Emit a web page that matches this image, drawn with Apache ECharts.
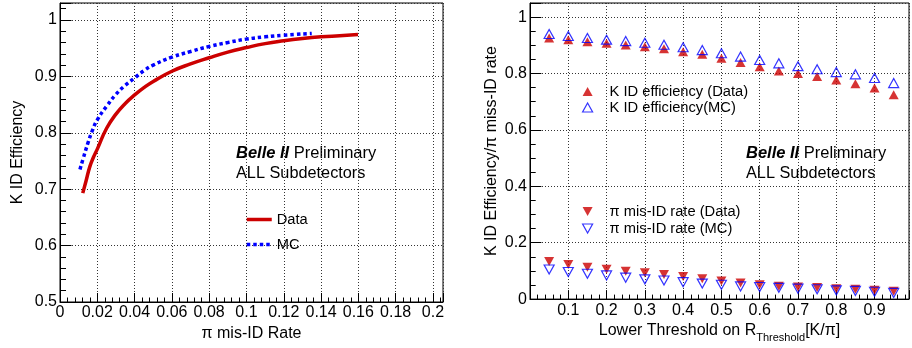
<!DOCTYPE html>
<html><head><meta charset="utf-8">
<script src="https://cdn.jsdelivr.net/npm/echarts@6/dist/echarts.min.js"></script>
<style>html,body{margin:0;padding:0;background:#fff}#c{width:912px;height:348px}</style>
</head><body><div id="c"></div>
<script>
// ---- Left panel: ROC curves (pi mis-ID rate vs K ID efficiency)
const rocDataRate = [0.0122,0.0140,0.0160,0.0180,0.0200,0.0250,0.0300,0.0350,0.0400,0.0450,0.0500,0.0600,0.0700,0.0800,0.0900,0.1000,0.1100,0.1200,0.1300,0.1400,0.1500,0.1598];
const rocDataEff  = [0.693,0.715,0.740,0.757,0.771,0.808,0.833,0.852,0.867,0.880,0.891,0.909,0.922,0.933,0.943,0.951,0.958,0.963,0.967,0.970,0.972,0.974];
const rocMcRate = [0.0107,0.0125,0.0150,0.0175,0.0200,0.0250,0.0300,0.0350,0.0400,0.0450,0.0500,0.0600,0.0700,0.0800,0.0900,0.1000,0.1100,0.1200,0.1350];
const rocMcEff  = [0.735,0.755,0.782,0.805,0.823,0.847,0.868,0.884,0.897,0.910,0.920,0.934,0.944,0.953,0.960,0.966,0.970,0.973,0.976];

// ---- Right panel: efficiency / mis-ID vs lower threshold
const thresholds = [0.05,0.10,0.15,0.20,0.25,0.30,0.35,0.40,0.45,0.50,0.55,0.60,0.65,0.70,0.75,0.80,0.85,0.90,0.95];
const effData = [0.926,0.920,0.913,0.907,0.901,0.895,0.888,0.877,0.868,0.854,0.839,0.824,0.809,0.800,0.789,0.777,0.764,0.749,0.725];
const effMC   = [0.940,0.933,0.926,0.920,0.915,0.909,0.902,0.893,0.883,0.872,0.860,0.848,0.836,0.826,0.815,0.805,0.797,0.784,0.766];
const misData = [0.133,0.123,0.113,0.106,0.099,0.093,0.087,0.080,0.072,0.064,0.057,0.051,0.046,0.043,0.041,0.037,0.035,0.031,0.028];
const misMC   = [0.105,0.096,0.090,0.084,0.076,0.070,0.066,0.060,0.055,0.051,0.045,0.043,0.040,0.037,0.035,0.031,0.029,0.026,0.022];

// ---- Tick labels
const leftXLabels  = [0,0.02,0.04,0.06,0.08,0.1,0.12,0.14,0.16,0.18,0.2];
const leftYLabels  = [0.5,0.6,0.7,0.8,0.9,1];
const rightXLabels = [0.1,0.2,0.3,0.4,0.5,0.6,0.7,0.8,0.9];
const rightYLabels = [0,0.2,0.4,0.6,0.8,1];

const FONT = "'Liberation Sans', Arial, Helvetica, sans-serif";
const RED = '#cc0000', BLUE = '#0000ff';
const DOWN_TRI = 'path://M0,0 L10,0 L5,9 Z';

function fmtFrom(list){
  return function(v){
    for (const t of list){ if (Math.abs(v - t) < 1e-6) return String(t); }
    return '';
  };
}
function zip(a,b){ return a.map((x,i)=>[x,b[i]]); }

function axis(o){
  return Object.assign({
    type:'value',
    axisLine:{show:true, onZero:false, lineStyle:{color:'#000', width:1}},
    axisTick:{show:true, inside:true, lineStyle:{color:'#000', width:1}},
    minorTick:{show:true, lineStyle:{color:'#000', width:1}},
    splitLine:{show:true, lineStyle:{color:'#333', width:1, type:[1,2]}},
    nameLocation:'middle',
    nameTextStyle:{fontSize:16, fontFamily:FONT, color:'#000'},
  }, o);
}

const legendText = {fontSize:14.7, fontFamily:FONT, color:'#000', padding:[0,0,0,12]};
const hollow = {color:'rgba(0,0,0,0)', borderColor:BLUE, borderWidth:1.2};

const chart = echarts.init(document.getElementById('c'), null, {renderer:'canvas'});
chart.setOption({
  animation:false,
  backgroundColor:'#fff',
  textStyle:{fontFamily:FONT},
  grid:[
    {left:60, top:3, width:383, height:299, show:true, borderColor:'#000', borderWidth:1, backgroundColor:'transparent'},
    {left:530, top:3, width:384, height:299, show:true, borderColor:'#000', borderWidth:1, backgroundColor:'transparent'}
  ],
  xAxis:[
    axis({gridIndex:0, min:0, max:0.2054, interval:0.02,
      axisTick:{show:true, inside:true, length:9, lineStyle:{color:'#000'}},
      minorTick:{show:true, splitNumber:5, length:4.5, lineStyle:{color:'#000'}},
      axisLabel:{fontSize:16, fontFamily:FONT, color:'#000', margin:3, formatter:fmtFrom(leftXLabels)},
      name:'\u03c0 mis-ID Rate', nameGap:20}),
    axis({gridIndex:1, min:0, max:0.99, interval:0.1,
      axisTick:{show:true, inside:true, length:9, lineStyle:{color:'#000'}},
      minorTick:{show:true, splitNumber:5, length:4.5, lineStyle:{color:'#000'}},
      axisLabel:{fontSize:16, fontFamily:FONT, color:'#000', margin:3, formatter:fmtFrom(rightXLabels)},
      name:'{m|Lower Threshold on R}{s|Threshold}{m|[K/\u03c0]}', nameGap:17,
      nameTextStyle:{fontSize:16, fontFamily:FONT, color:'#000',
        rich:{m:{fontSize:16, fontFamily:FONT, color:'#000', verticalAlign:'bottom', padding:[0,0,4,0]},
              s:{fontSize:11, fontFamily:FONT, color:'#000', verticalAlign:'bottom'}}}})
  ],
  yAxis:[
    axis({gridIndex:0, min:0.5, max:1.03, interval:0.1,
      axisTick:{show:true, inside:true, length:11.5, lineStyle:{color:'#000'}},
      minorTick:{show:true, splitNumber:5, length:6, lineStyle:{color:'#000'}},
      axisLabel:{fontSize:16, fontFamily:FONT, color:'#000', margin:3, formatter:fmtFrom(leftYLabels)},
      name:'K ID Efficiency', nameGap:34}),
    axis({gridIndex:1, min:0, max:1.05, interval:0.2,
      axisTick:{show:true, inside:true, length:11.4, lineStyle:{color:'#000'}},
      minorTick:{show:true, splitNumber:4, length:5.7, lineStyle:{color:'#000'}},
      axisLabel:{fontSize:16, fontFamily:FONT, color:'#000', margin:3, formatter:fmtFrom(rightYLabels)},
      name:'K ID Efficiency/\u03c0 miss-ID rate', nameGap:30})
  ],
  legend:[
    {left:240, top:207, orient:'vertical', itemWidth:25, itemHeight:16, itemGap:10,
      itemStyle:{opacity:0},
      textStyle:{fontSize:14.7, fontFamily:FONT, color:'#000'}, selectedMode:false,
      data:[{name:'Data', lineStyle:{width:3.5, color:RED}},
            {name:'MC', lineStyle:{width:3.5, color:BLUE, type:[3.5,3]}}]},
    {left:577, top:79, orient:'vertical', itemWidth:10, itemHeight:9, itemGap:1,
      textStyle:legendText, selectedMode:false,
      data:[{name:'K ID efficiency (Data)'},
            {name:'K ID efficiency(MC)', itemStyle:hollow}]},
    {left:577, top:199, orient:'vertical', itemWidth:10, itemHeight:9, itemGap:2,
      textStyle:legendText, selectedMode:false,
      data:[{name:'\u03c0 mis-ID rate (Data)', icon:DOWN_TRI, itemStyle:{color:RED}},
            {name:'\u03c0 mis-ID rate (MC)', icon:DOWN_TRI, itemStyle:hollow}]}
  ],
  graphic:[
    {type:'text', x:236, y:153, style:{text:'{b|Belle II} Preliminary', fontSize:16.5, fontFamily:FONT, fill:'#000', verticalAlign:'middle',
      rich:{b:{fontSize:16.5, fontFamily:FONT, fontWeight:'bold', fontStyle:'italic', fill:'#000'}}}},
    {type:'text', x:236, y:174, style:{text:'ALL Subdetectors', fontSize:16.3, fontFamily:FONT, fill:'#000', verticalAlign:'middle'}},
    {type:'text', x:746, y:153, style:{text:'{b|Belle II} Preliminary', fontSize:16.5, fontFamily:FONT, fill:'#000', verticalAlign:'middle',
      rich:{b:{fontSize:16.5, fontFamily:FONT, fontWeight:'bold', fontStyle:'italic', fill:'#000'}}}},
    {type:'text', x:746, y:174, style:{text:'ALL Subdetectors', fontSize:16.3, fontFamily:FONT, fill:'#000', verticalAlign:'middle'}}
  ],
  series:[
    {name:'Data', type:'line', xAxisIndex:0, yAxisIndex:0, data:zip(rocDataRate, rocDataEff),
      symbol:'none', smooth:true, lineStyle:{color:RED, width:3.5}, itemStyle:{color:RED}, z:3},
    {name:'MC', type:'line', xAxisIndex:0, yAxisIndex:0, data:zip(rocMcRate, rocMcEff),
      symbol:'none', smooth:true, lineStyle:{color:BLUE, width:3.5, type:[3.5,3]}, itemStyle:{color:BLUE}, z:3},
    {name:'K ID efficiency (Data)', type:'scatter', xAxisIndex:1, yAxisIndex:1, data:zip(thresholds, effData),
      symbol:'triangle', symbolSize:[10,9], itemStyle:{color:RED}, z:3},
    {name:'K ID efficiency(MC)', type:'scatter', xAxisIndex:1, yAxisIndex:1, data:zip(thresholds, effMC),
      symbol:'triangle', symbolSize:[10,9], itemStyle:hollow, z:4},
    {name:'\u03c0 mis-ID rate (Data)', type:'scatter', xAxisIndex:1, yAxisIndex:1, data:zip(thresholds, misData),
      symbol:'triangle', symbolRotate:180, symbolSize:[10,9], itemStyle:{color:RED}, z:3},
    {name:'\u03c0 mis-ID rate (MC)', type:'scatter', xAxisIndex:1, yAxisIndex:1, data:zip(thresholds, misMC),
      symbol:'triangle', symbolRotate:180, symbolSize:[10,9], itemStyle:hollow, z:4}
  ]
});
</script></body></html>
